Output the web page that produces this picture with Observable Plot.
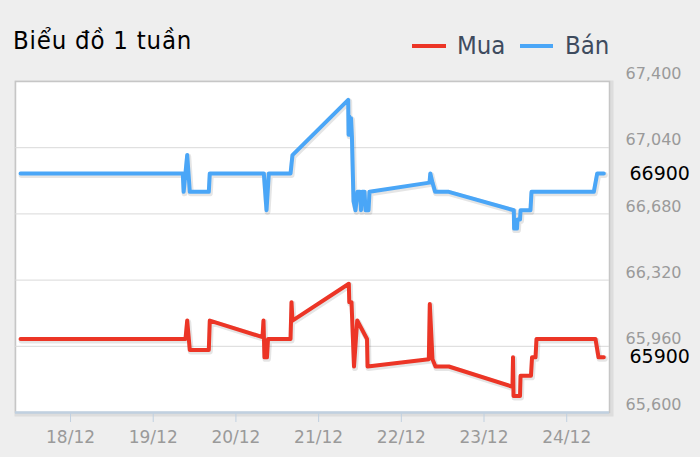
<!DOCTYPE html>
<html>
<head>
<meta charset="utf-8">
<script src="https://cdn.jsdelivr.net/npm/d3@7"></script>
<script src="https://cdn.jsdelivr.net/npm/@observablehq/plot@0.6"></script>
<style>
  html, body { margin: 0; padding: 0; background: #eeeeee; }
  #wrap { width: 700px; height: 457px; position: relative; overflow: hidden; }
  #head { display: block; }
  #chart svg { display: block; }
</style>
</head>
<body>
<div id="wrap">
  <svg id="head" width="700" height="60">
    <text x="13" y="48.5" font-family="DejaVu Sans Condensed" font-size="25.5" letter-spacing="0.8" fill="#000">Biểu đồ 1 tuần</text>
    <line x1="412" x2="446" y1="46" y2="46" stroke="#ec3526" stroke-width="4"/>
    <text x="457" y="54" font-family="DejaVu Sans Condensed" font-size="25.5" fill="#3e4b5e">Mua</text>
    <line x1="520" x2="553" y1="46" y2="46" stroke="#4aa6f7" stroke-width="4"/>
    <text x="565" y="54" font-family="DejaVu Sans Condensed" font-size="25.5" fill="#3e4b5e">Bán</text>
  </svg>
  <div id="chart"></div>
</div>
<script>
// ---- data ----
const banTimes = [
  "2023-12-17T09:30Z","2023-12-19T08:35Z","2023-12-19T08:50Z","2023-12-19T09:52Z","2023-12-19T10:37Z",
  "2023-12-19T16:08Z","2023-12-19T16:25Z","2023-12-20T08:06Z","2023-12-20T08:53Z","2023-12-20T09:33Z",
  "2023-12-20T15:51Z","2023-12-20T16:25Z","2023-12-21T08:35Z","2023-12-21T08:42Z","2023-12-21T08:55Z",
  "2023-12-21T09:10Z","2023-12-21T09:25Z","2023-12-21T09:40Z","2023-12-21T10:08Z","2023-12-21T10:42Z",
  "2023-12-21T11:17Z","2023-12-21T12:01Z","2023-12-21T12:18Z","2023-12-21T12:36Z","2023-12-21T13:19Z",
  "2023-12-21T13:37Z","2023-12-21T14:29Z","2023-12-21T14:46Z","2023-12-22T08:11Z","2023-12-22T08:25Z",
  "2023-12-22T09:03Z","2023-12-22T09:50Z","2023-12-22T13:47Z","2023-12-23T08:39Z","2023-12-23T08:44Z",
  "2023-12-23T09:34Z","2023-12-23T09:43Z","2023-12-23T10:27Z","2023-12-23T10:36Z","2023-12-23T13:29Z",
  "2023-12-23T13:47Z","2023-12-24T07:52Z","2023-12-24T08:51Z","2023-12-24T10:46Z"
];
const banValues = [
  66900, 66900, 66800, 67000, 66800,
  66800, 66900, 66900, 66700, 66900,
  66900, 67000, 67300, 67110, 67210,
  67110, 67200, 67100, 66750, 66700,
  66800, 66800, 66700, 66800, 66800,
  66700, 66700, 66800, 66850, 66900,
  66850, 66800, 66800, 66700, 66600,
  66600, 66650, 66650, 66700, 66700,
  66800, 66800, 66900, 66900
];
const muaTimes = [
  "2023-12-17T09:30Z","2023-12-19T09:22Z","2023-12-19T09:52Z","2023-12-19T10:37Z","2023-12-19T16:08Z",
  "2023-12-19T16:25Z","2023-12-20T07:43Z","2023-12-20T08:00Z","2023-12-20T08:17Z","2023-12-20T09:01Z",
  "2023-12-20T09:19Z","2023-12-20T15:51Z","2023-12-20T16:08Z","2023-12-20T16:25Z","2023-12-21T08:46Z",
  "2023-12-21T08:54Z","2023-12-21T09:33Z","2023-12-21T10:16Z","2023-12-21T11:12Z","2023-12-21T14:03Z",
  "2023-12-21T14:12Z","2023-12-22T07:59Z","2023-12-22T08:16Z","2023-12-22T09:03Z","2023-12-22T09:55Z",
  "2023-12-22T13:47Z","2023-12-23T08:16Z","2023-12-23T08:25Z","2023-12-23T08:34Z","2023-12-23T10:27Z",
  "2023-12-23T10:36Z","2023-12-23T13:38Z","2023-12-23T13:56Z","2023-12-23T14:57Z","2023-12-23T15:14Z",
  "2023-12-24T08:21Z","2023-12-24T09:14Z","2023-12-24T10:46Z"
];
const muaValues = [
  66000, 66000, 66100, 65940, 65940,
  66100, 66010, 66100, 65900, 65900,
  66000, 66000, 66200, 66100, 66300,
  66200, 66200, 65850, 66100, 66000,
  65850, 65890, 66190, 65890, 65850,
  65850, 65740, 65900, 65690, 65690,
  65800, 65800, 65900, 65900, 66000,
  66000, 65900, 65900
];
const yTicks = [65600, 65960, 66320, 66680, 67040, 67400];
const gridTicks = [65960, 66320, 66680, 67040];
const xTicks = ["2023-12-18T00:00Z","2023-12-19T00:00Z","2023-12-20T00:00Z","2023-12-21T00:00Z","2023-12-22T00:00Z","2023-12-23T00:00Z","2023-12-24T00:00Z"];
const xDomain = ["2023-12-17T08:02Z", "2023-12-24T12:25Z"];

// ---- build ----
const ban = banTimes.map((t, i) => ({time: new Date(t), value: banValues[i]}));
const mua = muaTimes.map((t, i) => ({time: new Date(t), value: muaValues[i]}));
const lastLabels = [ban[ban.length - 1], mua[mua.length - 1]];
const RED = "#ec3526", BLUE = "#4aa6f7";

const chart = Plot.plot({
  width: 700,
  height: 397,
  marginTop: 21,
  marginBottom: 45,
  marginLeft: 15,
  marginRight: 91,
  style: {background: "none", fontFamily: "DejaVu Sans", overflow: "visible"},
  x: {type: "utc", domain: xDomain.map(d => new Date(d))},
  y: {domain: [65600, 67400]},
  marks: [
    Plot.frame({stroke: "#000", strokeOpacity: 0.07, strokeWidth: 5, dx: 1.5, dy: 1.5}),
    Plot.frame({fill: "white", stroke: "#c6c6c6", strokeWidth: 1.5}),
    Plot.gridY(gridTicks, {stroke: "#d9d9d9", strokeOpacity: 1}),
    Plot.axisY(yTicks, {anchor: "right", tickSize: 0, tickPadding: 16, dy: -7.5,
      tickFormat: d3.format(","), fill: "#9a9a9a", fontSize: 16, label: null}),
    Plot.axisX(xTicks.map(d => new Date(d)), {anchor: "bottom", tickSize: 10, tickPadding: 8,
      stroke: "#c0d0e0", fill: "#9a9a9a", fontSize: 17,
      tickFormat: d3.utcFormat("%d/%m"), label: null}),
    Plot.ruleY([65600], {stroke: "#c0d0e0", strokeWidth: 2.5}),
    Plot.line(ban, {x: "time", y: "value", stroke: "#000", strokeOpacity: 0.1, strokeWidth: 6, dx: 1, dy: 1.5}),
    Plot.line(mua, {x: "time", y: "value", stroke: "#000", strokeOpacity: 0.1, strokeWidth: 6, dx: 1, dy: 1.5}),
    Plot.line(ban, {x: "time", y: "value", stroke: BLUE, strokeWidth: 4}),
    Plot.line(mua, {x: "time", y: "value", stroke: RED, strokeWidth: 4}),
    Plot.text(lastLabels, {y: "value", text: d => String(d.value), frameAnchor: "right",
      dx: 20, textAnchor: "start", fontSize: 19, fill: "black"})
  ]
});
document.getElementById("chart").appendChild(chart);
</script>
</body>
</html>
